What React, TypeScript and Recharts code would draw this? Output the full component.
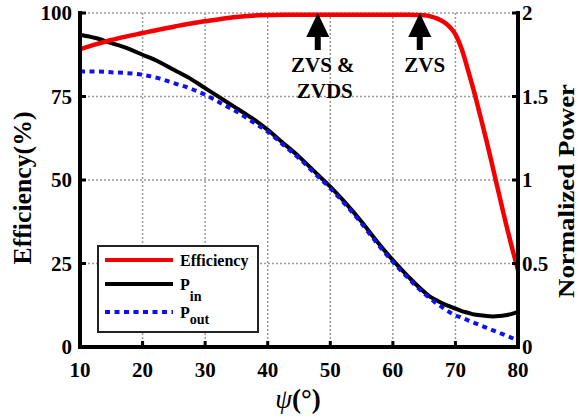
import { LineChart, Line, XAxis, YAxis, CartesianGrid, ReferenceDot, Legend } from "recharts";

// phase shift angle (deg)
const psi = [10, 12.5, 15, 17.5, 20, 22.5, 25, 27.5, 30, 32.5, 35, 37.5, 40, 42.5, 45, 47.5, 50, 52.5, 55, 57.5, 60, 62.5, 65, 66, 67, 68, 69, 70, 71, 72, 73, 74, 75, 76, 77, 78, 79, 80];
// efficiency in %
const efficiency = [89.2, 90.6, 91.9, 93.0, 94.0, 95.0, 95.9, 96.8, 97.5, 98.2, 98.8, 99.2, 99.4, 99.5, 99.5, 99.5, 99.5, 99.5, 99.5, 99.5, 99.5, 99.5, 99.3, 99.0, 98.4, 97.5, 96.0, 93.6, 89.2, 83.0, 76.3, 69.0, 61.5, 53.5, 45.5, 37.5, 30.0, 23.0];
// normalized input / output power
const pIn = [1.87, 1.85, 1.82, 1.79, 1.75, 1.71, 1.66, 1.61, 1.55, 1.49, 1.43, 1.37, 1.3, 1.22, 1.14, 1.05, 0.96, 0.86, 0.75, 0.63, 0.52, 0.42, 0.33, 0.3, 0.28, 0.26, 0.245, 0.23, 0.215, 0.205, 0.195, 0.19, 0.185, 0.183, 0.185, 0.19, 0.198, 0.21];
const pOut = [1.65, 1.65, 1.645, 1.64, 1.63, 1.61, 1.58, 1.55, 1.51, 1.46, 1.41, 1.35, 1.29, 1.21, 1.13, 1.04, 0.95, 0.85, 0.74, 0.62, 0.51, 0.41, 0.32, 0.29, 0.26, 0.235, 0.21, 0.19, 0.175, 0.16, 0.145, 0.13, 0.115, 0.1, 0.085, 0.07, 0.055, 0.04];

const xTicks = [10, 20, 30, 40, 50, 60, 70, 80];
const leftTicks = [0, 25, 50, 75, 100];
const rightTicks = [0, 0.5, 1, 1.5, 2];

const arrows = [
  { psi: 48, lines: ["ZVS &", "ZVDS"] },
  { psi: 64.3, lines: ["ZVS"] },
];

const legendRows = [
  { key: "eff", main: "Efficiency", sub: "", subDy: 0 },
  { key: "pin", main: "P", sub: "in", subDy: 11 },
  { key: "pout", main: "P", sub: "out", subDy: 6 },
];

const data = psi.map((x, i) => ({ psi: x, eff: efficiency[i], pin: pIn[i], pout: pOut[i] }));

const FONT = "'Liberation Serif', serif";
const tickStyle = { fill: "#000", fontSize: 21, fontWeight: 700, fontFamily: FONT };
const frame = { stroke: "#000", strokeWidth: 4, strokeLinecap: "square" as const };
const tickMark = { stroke: "#000", strokeWidth: 3 };

const arrowShape = (lines: string[]) => (props: any) => {
  const { cx, cy } = props;
  return (
    <g>
      <polygon points={`${cx},${cy} ${cx - 11.5},${cy + 24} ${cx + 11.5},${cy + 24}`} fill="#000" />
      <rect x={cx - 3} y={cy + 23} width={6} height={14} fill="#000" />
      {lines.map((t, i) => (
        <text key={t} x={cx + 5 + i * 2} y={cy + 59 + i * 26} textAnchor="middle" fontFamily={FONT} fontWeight={700} fontSize={21} fill="#000">
          {t}
        </text>
      ))}
    </g>
  );
};

const leftLabel = (props: any) => {
  const vb = props.viewBox || { y: 13, height: 334 };
  const x = 22;
  const y = vb.y + vb.height / 2 + 8;
  return (
    <text x={x} y={y} transform={`rotate(-90 ${x} ${y})`} textAnchor="middle" dominantBaseline="central" fontFamily={FONT} fontWeight={700} fontSize={25} textLength={153} lengthAdjust="spacingAndGlyphs" fill="#000">
      Efficiency(%)
    </text>
  );
};

const rightLabel = (props: any) => {
  const vb = props.viewBox || { y: 13, height: 334 };
  const x = 566;
  const y = vb.y + vb.height / 2 + 11;
  return (
    <text x={x} y={y} transform={`rotate(-90 ${x} ${y})`} textAnchor="middle" dominantBaseline="central" fontFamily={FONT} fontWeight={700} fontSize={24} textLength={214} lengthAdjust="spacingAndGlyphs" fill="#000">
      Normalized Power
    </text>
  );
};

const bottomLabel = () => (
  <text x={298} y={408} textAnchor="middle" fontFamily={FONT} fontSize={27} fill="#000">
    <tspan fontStyle="italic">ψ</tspan>
    <tspan fontWeight={700}>(°)</tspan>
  </text>
);

const LegendBox = ({ payload }: any) => {
  const items = payload || [];
  return (
    <svg width={162} height={88} style={{ display: "block" }}>
      <rect x={1} y={1} width={160} height={86} fill="#fff" stroke="#222" strokeWidth={2} />
      {legendRows.map((row, i) => {
        const item = items.find((p: any) => p.dataKey === row.key) || {};
        const ly = [15, 39, 67][i];
        const dash = item.payload && item.payload.strokeDasharray;
        return (
          <g key={row.key}>
            <line x1={8} x2={76} y1={ly} y2={ly} stroke={item.color} strokeWidth={4} strokeDasharray={dash} />
            <text x={83} y={ly + 6} fontFamily={FONT} fontWeight={700} fontSize={16} fill="#000">
              {row.main}
              {row.sub && (
                <tspan fontSize={14} dy={row.subDy}>
                  {row.sub}
                </tspan>
              )}
            </text>
          </g>
        );
      })}
    </svg>
  );
};

export default function App() {
  return (
    <div style={{ position: "absolute", left: 0, top: 0, background: "#fff" }}>
      <LineChart width={580} height={419} data={data} margin={{ top: 13, right: 0, bottom: 0, left: 0 }}>
        <CartesianGrid yAxisId="left" stroke="#9a9a9a" strokeWidth={1.5} strokeDasharray="2 2" />
        <XAxis
          dataKey="psi"
          type="number"
          domain={[10, 80]}
          ticks={xTicks}
          height={72}
          axisLine={frame}
          tickLine={tickMark}
          tickSize={-6}
          tickMargin={21}
          tick={tickStyle}
          label={bottomLabel}
        />
        <XAxis
          xAxisId="top"
          orientation="top"
          dataKey="psi"
          type="number"
          domain={[10, 80]}
          ticks={xTicks}
          height={0}
          axisLine={frame}
          tickLine={tickMark}
          tickSize={-6}
          tickFormatter={() => ""}
        />
        <YAxis
          yAxisId="left"
          domain={[0, 100]}
          ticks={leftTicks}
          width={80}
          axisLine={frame}
          tickLine={tickMark}
          tickSize={-6}
          tickMargin={14}
          tick={tickStyle}
          label={leftLabel}
        />
        <YAxis
          yAxisId="right"
          orientation="right"
          domain={[0, 2]}
          ticks={rightTicks}
          width={62}
          axisLine={frame}
          tickLine={tickMark}
          tickSize={-6}
          tickMargin={10}
          tick={tickStyle}
          label={rightLabel}
        />
        <Line yAxisId="right" type="monotone" dataKey="pin" name="Pin" stroke="#000" strokeWidth={4} dot={false} isAnimationActive={false} />
        <Line yAxisId="right" type="monotone" dataKey="pout" name="Pout" stroke="#1010ee" strokeWidth={4} strokeDasharray="5 4.5" dot={false} isAnimationActive={false} />
        <Line yAxisId="left" type="monotone" dataKey="eff" name="Efficiency" stroke="#f40000" strokeWidth={4.5} dot={false} isAnimationActive={false} />
        {arrows.map((a) => (
          <ReferenceDot key={a.psi} x={a.psi} y={100} yAxisId="left" r={0} shape={arrowShape(a.lines)} />
        ))}
        <Legend
          layout="horizontal"
          verticalAlign="middle"
          align="center"
          content={<LegendBox />}
          wrapperStyle={{ left: 97, top: 245, width: 162, height: 88 }}
        />
      </LineChart>
    </div>
  );
}
